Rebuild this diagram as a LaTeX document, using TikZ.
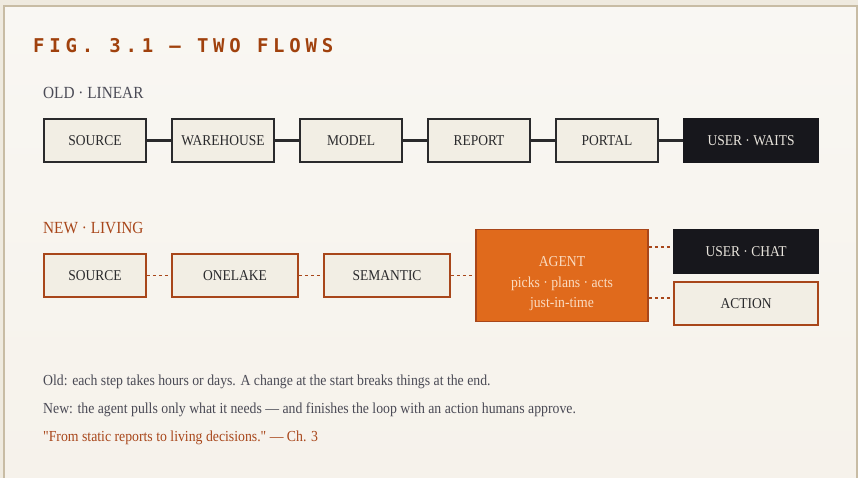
\documentclass[tikz,border=0pt]{standalone}
\usepackage{fontspec}
\setmainfont{Liberation Serif}[FakeStretch=0.9]
\newfontfamily\quotefont{Liberation Serif}[FakeStretch=0.9]
\newfontfamily\titlefont{DejaVu Sans Mono}[LetterSpace=25]

\definecolor{pagebg}{HTML}{EFEADF}
\definecolor{cardtop}{HTML}{F9F7F3}
\definecolor{cardbot}{HTML}{F6F2EB}
\definecolor{framecol}{HTML}{C8BCA4}
\definecolor{rust}{HTML}{A0410D}
\definecolor{rustlight}{HTML}{A8461A}
\definecolor{inkdark}{HTML}{2A2A2C}
\definecolor{inkgray}{HTML}{4A4A55}
\definecolor{boxfill}{HTML}{F2EEE4}
\definecolor{nightbox}{HTML}{17171C}
\definecolor{nighttext}{HTML}{E8E4DC}
\definecolor{agentfill}{HTML}{E06A1C}
\definecolor{agenttext}{HTML}{FADCC2}

\newcommand\boxfont{\fontsize{15}{17}\selectfont}
\newcommand\notefont{\fontsize{15.3}{18}\selectfont}
\newcommand\rowfont{\fontsize{17}{20}\selectfont}

\tikzset{
  oldbox/.style={draw=inkdark, line width=1.8pt, fill=boxfill, text=inkdark,
    minimum width=102pt, minimum height=43pt, inner sep=0pt, font=\boxfont},
  newbox/.style={oldbox, draw=rustlight},
  nightbox/.style={fill=nightbox, text=nighttext, minimum height=45pt,
    inner sep=0pt, font=\boxfont},
  oldlink/.style={draw=inkdark, line width=2.3pt},
  newlink/.style={draw=rustlight, line width=1.9pt, dash pattern=on 3.5pt off 2.5pt},
  label/.style={anchor=base west, inner sep=0pt},
}

\begin{document}
\begin{tikzpicture}[x=1pt, y=-1pt]
        \useasboundingbox (0,0) rectangle (858,478);
        \fill[pagebg] (0,0) rectangle (858,478);
        \shade[top color=cardtop, bottom color=cardbot] (4,6.5) rectangle (856.5,478);
        \draw[framecol, line width=2pt] (4,478) -- (4,6.5) -- (856.5,6.5) -- (856.5,478);

        %%%%%%%%%% Titoli %%%%%%%%%%
        \node[label, text=rust, font=\titlefont\bfseries\fontsize{19}{21}\selectfont] (title) at (33,53) {FIG. 3.1 — TWO FLOWS};
        \node[label, text=inkgray, font=\rowfont] (oldlbl) at (43,98.5) {OLD · LINEAR};
        \node[label, text=rustlight, font=\rowfont] (newlbl) at (43,233.5) {NEW · LIVING};

        %%%%%%%%%% Nodi vecchi %%%%%%%%%%
        \node[oldbox] (src) at (95,140.5) {SOURCE};
        \node[oldbox] (wh)  at (223,140.5) {WAREHOUSE};
        \node[oldbox] (mdl) at (351,140.5) {MODEL};
        \node[oldbox] (rep) at (479,140.5) {REPORT};
        \node[oldbox] (prt) at (607,140.5) {PORTAL};
        \node[nightbox, minimum width=136pt] (wait) at (751,140.5) {USER · WAITS};

        %%%%%%%%%% Nodi nuovi %%%%%%%%%%
        \node[newbox] (src2) at (95,275.5) {SOURCE};
        \node[newbox, minimum width=126pt] (lake) at (235,275.5) {ONELAKE};
        \node[newbox, minimum width=126pt] (sem)  at (387,275.5) {SEMANTIC};
        \node[newbox, fill=agentfill, text=agenttext, minimum width=172pt, minimum height=92pt,
              align=center, font=\fontsize{15.2}{20.5}\selectfont] (agent) at (562,275.5)
              {\rule{0pt}{27pt}AGENT\\picks · plans · acts\\just-in-time};
        \node[nightbox, minimum width=146pt] (chat) at (746,251.5) {USER · CHAT};
        \node[newbox, minimum width=144pt] (act) at (746,303.5) {ACTION};

        %%%%%%%%%% Archi %%%%%%%%%%
        \draw[oldlink] (src) -- (wh);
        \draw[oldlink] (wh) -- (mdl);
        \draw[oldlink] (mdl) -- (rep);
        \draw[oldlink] (rep) -- (prt);
        \draw[oldlink] (prt) -- (wait);

        \draw[newlink] (src2) -- (lake);
        \draw[newlink] (lake) -- (sem);
        \draw[newlink] (sem) -- (agent);
        \coordinate (chatin) at ([yshift=4.5pt]chat.west);
        \coordinate (actin) at ([yshift=5.5pt]act.west);
        \draw[newlink] (agent.east |- chatin) -- (chatin);
        \draw[newlink] (agent.east |- actin) -- (actin);

        %%%%%%%%%% Note %%%%%%%%%%
        \node[label, text=inkgray, font=\notefont] (note1) at (43,385.5)
              {Old: each step takes hours or days. A change at the start breaks things at the end.};
        \node[label, text=inkgray, font=\notefont] (note2) at (43,413.5)
              {New: the agent pulls only what it needs — and finishes the loop with an action humans approve.};
        \node[label, text=rustlight, font=\quotefont\notefont] (quote) at (43,441.5)
              {"From static reports to living decisions." — Ch. 3};
    \end{tikzpicture}
\end{document}
